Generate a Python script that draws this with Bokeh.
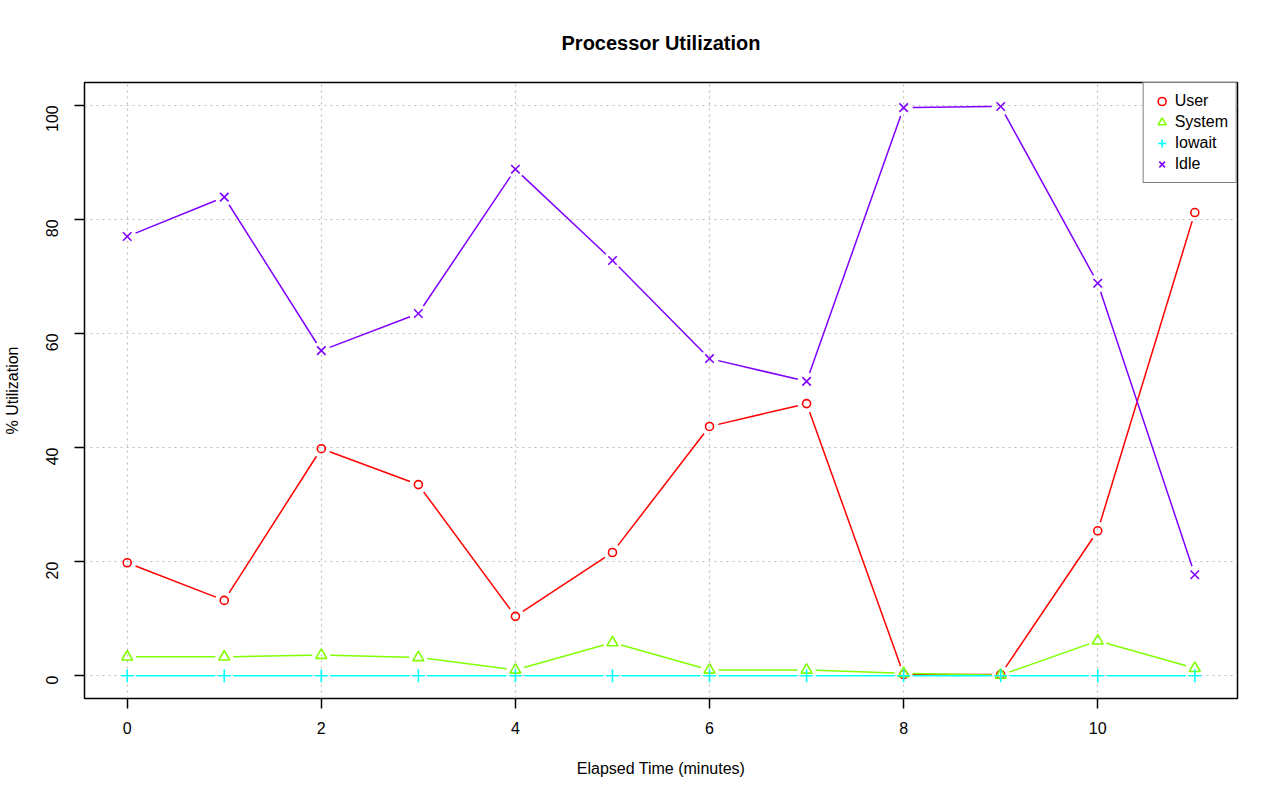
import math
import numpy as np
from bokeh.plotting import figure
from bokeh.models import Range1d, FixedTicker, Legend, LegendItem
from bokeh.embed import file_html
from bokeh.resources import INLINE

# ---- data ----
minutes = [0, 1, 2, 3, 4, 5, 6, 7, 8, 9, 10, 11]
user = [19.8, 13.2, 39.8, 33.5, 10.4, 21.6, 43.7, 47.7, 0.2, 0.2, 25.4, 81.2]
system = [3.3, 3.3, 3.6, 3.2, 1.0, 5.8, 1.0, 1.0, 0.4, 0.1, 6.1, 1.3]
iowait = [0.0, 0.0, 0.0, 0.0, 0.0, 0.0, 0.0, 0.0, 0.0, 0.0, 0.0, 0.0]
idle = [77.0, 83.9, 57.0, 63.5, 88.8, 72.8, 55.6, 51.6, 99.6, 99.8, 68.8, 17.7]
series_names = ["User", "System", "Iowait", "Idle"]
x_ticks = [0, 2, 4, 6, 8, 10]
y_ticks = [0, 20, 40, 60, 80, 100]

colors = ["#FF0000", "#80FF00", "#00FFFF", "#8000FF"]
markers = ["circle", "triangle", "cross", "x"]
sizes = [8, 11, 13, 12]

FONT = "Liberation Sans"
BL, BT = 80, 82
FW, FH = 1157, 616
W, H = 1272, 793
BR = W - BL - FW
BB = H - BT - FH
X0, X1 = -0.44, 11.44
Y0, Y1 = -4, 104

p = figure(width=W, height=H, output_backend="svg", toolbar_location=None,
           x_range=Range1d(X0, X1), y_range=Range1d(Y0, Y1),
           min_border_left=BL, min_border_right=BR,
           min_border_top=BT, min_border_bottom=BB,
           background_fill_color="white", border_fill_color="white")

p.outline_line_color = "black"
p.outline_line_width = 1.5

p.title.text = "Processor Utilization"
p.title.align = "center"
p.title.text_font = FONT
p.title.text_font_size = "20px"
p.title.text_font_style = "bold"
p.title.text_color = "black"
p.title.text_line_height = 1.0
p.title.standoff = 58

# axes
p.xaxis.ticker = FixedTicker(ticks=x_ticks)
p.yaxis.ticker = FixedTicker(ticks=y_ticks)
for ax in (p.xaxis[0], p.yaxis[0]):
    ax.axis_line_color = None
    ax.major_tick_line_color = "black"
    ax.major_tick_line_width = 1.5
    ax.major_tick_out = 10
    ax.major_tick_in = 0
    ax.minor_tick_line_color = None
    ax.major_label_text_font = FONT
    ax.major_label_text_font_size = "16px"
    ax.major_label_text_color = "black"
    ax.axis_label_text_font = FONT
    ax.axis_label_text_font_size = "16px"
    ax.axis_label_text_font_style = "normal"
    ax.axis_label_text_color = "black"
p.xaxis.axis_label = "Elapsed Time (minutes)"
p.yaxis.axis_label = "% Utilization"
p.yaxis.major_label_orientation = math.pi / 2
p.xaxis.major_label_standoff = 13
p.yaxis.major_label_standoff = 22
p.xaxis.axis_label_standoff = 23
p.yaxis.axis_label_standoff = 17

# grid
p.xgrid.ticker = FixedTicker(ticks=x_ticks)
p.ygrid.ticker = FixedTicker(ticks=y_ticks)
for g in (p.xgrid[0], p.ygrid[0]):
    g.grid_line_color = "#BEBEBE"
    g.grid_line_dash = "2 4"
    g.grid_line_width = 1.2

# pixel scale for R-style "b" line gaps
kx = FW / (X1 - X0)
ky = FH / (Y1 - Y0)
GAP = 9.0

def gapped(xs, ys):
    xs = np.asarray(xs, float)
    ys = np.asarray(ys, float)
    x0s, y0s, x1s, y1s = [], [], [], []
    for i in range(len(xs) - 1):
        dx = xs[i + 1] - xs[i]
        dy = ys[i + 1] - ys[i]
        L = math.hypot(dx * kx, dy * ky)
        if L <= 2 * GAP:
            continue
        f = GAP / L
        x0s.append(xs[i] + f * dx)
        y0s.append(ys[i] + f * dy)
        x1s.append(xs[i + 1] - f * dx)
        y1s.append(ys[i + 1] - f * dy)
    return x0s, y0s, x1s, y1s

items = []
for name, vals, c, m, s in zip(series_names, [user, system, iowait, idle],
                               colors, markers, sizes):
    a, b, cc, d = gapped(minutes, vals)
    p.segment(a, b, cc, d, line_color=c, line_width=1.5)
    r = p.scatter(minutes, vals, marker=m, size=s, line_color=c,
                  fill_color=None, line_width=1.6)
    items.append(LegendItem(label=name, renderers=[r]))

legend = Legend(items=items, location="top_right", margin=0,
                padding=8, spacing=1, glyph_width=20, glyph_height=20,
                label_standoff=3, label_text_font=FONT,
                label_text_font_size="16px", label_text_color="black",
                label_height=20,
                border_line_color="black", border_line_width=1.2,
                background_fill_color="white", background_fill_alpha=1.0)
p.add_layout(legend)

open("out.html", "w").write(file_html(p, INLINE))
